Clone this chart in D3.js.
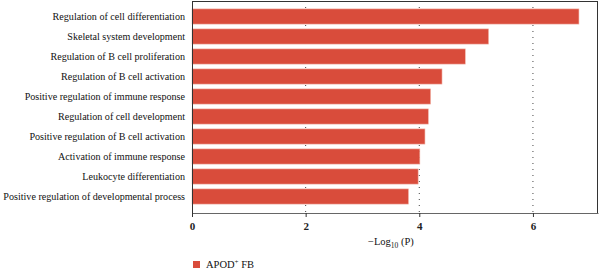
<!DOCTYPE html>
<html>
<head>
<meta charset="utf-8">
<script src="https://cdn.jsdelivr.net/npm/d3@7"></script>
<style>
  body { margin: 0; background: #fff; }
  svg { display: block; font-family: "Liberation Serif", "Times New Roman", serif; }
</style>
</head>
<body>
<div id="viz"></div>
<script>
let terms = [
  'Regulation of cell differentiation',
  'Skeletal system development',
  'Regulation of B cell proliferation',
  'Regulation of B cell activation',
  'Positive regulation of immune response',
  'Regulation of cell development',
  'Positive regulation of B cell activation',
  'Activation of immune response',
  'Leukocyte differentiation',
  'Positive regulation of developmental process'
];
let logP = [6.81, 5.22, 4.81, 4.40, 4.20, 4.16, 4.10, 4.01, 3.98, 3.81];
let ticks = [0, 2, 4, 6];

let width = 600, height = 269;
let margin = { top: 1, right: 2, bottom: 56, left: 192 };
let innerW = width - margin.left - margin.right,
  innerH = height - margin.top - margin.bottom;

let svg = d3.select('#viz').append('svg')
  .attr('width', width)
  .attr('height', height);

let g = svg.append('g')
  .attr('transform', 'translate(' + margin.left + ',' + margin.top + ')');

let x = d3.scaleLinear().domain([0, 7.145]).range([0, innerW]);
let y = d3.scaleBand().domain(terms).range([5.5, 205.5]).paddingInner(0.24).paddingOuter(0.12);

// dotted gridlines
g.selectAll('.grid')
  .data(ticks.slice(1))
  .enter().append('line')
  .attr('x1', d => x(d)).attr('x2', d => x(d))
  .attr('y1', 0).attr('y2', innerH)
  .attr('stroke', '#444')
  .attr('stroke-width', 1)
  .attr('stroke-dasharray', '1,5');

// frame top / right
g.append('line').attr('x1', 0).attr('x2', innerW).attr('y1', 0.5).attr('y2', 0.5)
  .attr('stroke', '#333');
g.append('line').attr('x1', innerW - 0.5).attr('x2', innerW - 0.5).attr('y1', 0).attr('y2', innerH)
  .attr('stroke', '#333');

g.selectAll('.bar')
  .data(logP)
  .enter().append('rect')
  .attr('x', 0)
  .attr('y', (d, i) => y(terms[i]))
  .attr('width', d => x(d))
  .attr('height', y.bandwidth())
  .attr('fill', '#d94c3b')
  .attr('stroke', '#f2b9ae')
  .attr('stroke-width', 0.6);

// category labels
g.selectAll('.lab')
  .data(terms)
  .enter().append('text')
  .attr('x', -7)
  .attr('y', d => y(d) + y.bandwidth() / 2)
  .attr('dy', '0.35em')
  .attr('text-anchor', 'end')
  .style('font-size', '10.1px')
  .style('fill', '#111')
  .text(d => d);

// left axis line
g.append('line').attr('x1', 0.5).attr('x2', 0.5).attr('y1', 0).attr('y2', innerH + 4)
  .attr('stroke', '#333');

// bottom axis
let xAxis = g.append('g')
  .attr('transform', 'translate(0,' + innerH + ')')
  .call(d3.axisBottom(x).tickValues(ticks).tickSize(4).tickSizeOuter(0).tickFormat(d3.format('d')));
xAxis.select('.domain').attr('stroke', '#666');
xAxis.selectAll('.tick line').attr('stroke', '#333');
xAxis.selectAll('.tick text')
  .style('font-family', '"Liberation Serif", serif')
  .style('font-size', '11px')
  .style('font-weight', 'bold')
  .style('fill', '#222')
  .attr('dy', '0.9em');

// axis title
let title = svg.append('text')
  .attr('x', margin.left + x(3.5))
  .attr('y', 245)
  .attr('text-anchor', 'middle')
  .style('font-size', '10.5px')
  .style('fill', '#111');
title.append('tspan').text('\u2212Log');
title.append('tspan').attr('dy', 3).style('font-size', '7.5px').text('10');
title.append('tspan').attr('dy', -3).text(' (P)');

// legend
svg.append('rect')
  .attr('x', 193).attr('y', 261)
  .attr('width', 7).attr('height', 7)
  .attr('fill', '#d94c3b');
let leg = svg.append('text')
  .attr('x', 206)
  .attr('y', 268)
  .style('font-size', '10.5px')
  .style('fill', '#111');
leg.append('tspan').text('APOD');
leg.append('tspan').attr('dy', -4).style('font-size', '7px').text('+');
leg.append('tspan').attr('dy', 4).text(' FB');
</script>
</body>
</html>
